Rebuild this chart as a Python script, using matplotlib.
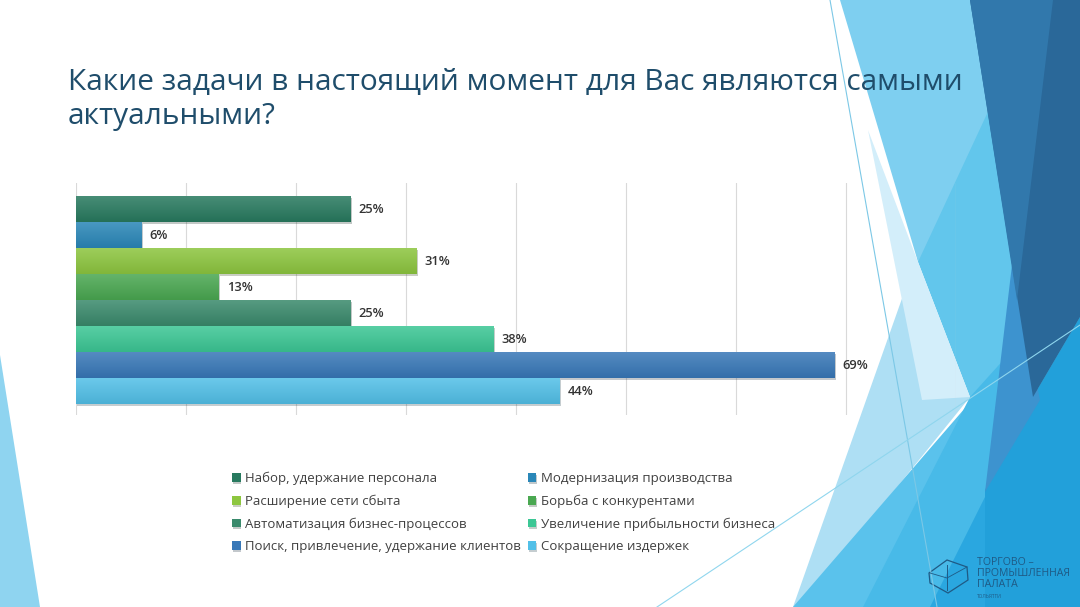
import matplotlib.pyplot as plt
import numpy as np
from matplotlib.patches import Polygon
from matplotlib import patheffects as pe
from matplotlib.colors import to_rgb

plt.rcParams['font.family'] = ['Open Sans', 'DejaVu Sans']

# data
tasks = ["Набор, удержание персонала", "Модернизация производства",
         "Расширение сети сбыта", "Борьба с конкурентами",
         "Автоматизация бизнес-процессов", "Увеличение прибыльности бизнеса",
         "Поиск, привлечение, удержание клиентов", "Сокращение издержек"]
shares = [25, 6, 31, 13, 25, 38, 69, 44]
colors = ['#287A5F', '#2A87B8', '#8DC63F', '#4AA851',
          '#3A8A6C', '#3CC795', '#3878B8', '#52C0E8']

W, H = 1080, 607
fig = plt.figure(figsize=(W / 100, H / 100), dpi=100)
fig.patch.set_facecolor('white')

# background decoration in pixel coords
bg = fig.add_axes([0, 0, 1, 1], zorder=0)
bg.set_xlim(0, W)
bg.set_ylim(H, 0)
bg.axis('off')

shapes = [
    ([(0, 355), (40, 607), (0, 607)], '#8FD4F0'),
    ([(900, 0), (1080, 0), (1080, 400), (970, 397), (918, 262)], '#62C6EC'),
    ([(840, 0), (1040, 0), (918, 262)], '#7ECFF0'),
    ([(905, 290), (970, 397), (800, 607), (793, 607)], '#AEDFF4'),
    ([(868, 130), (918, 262), (970, 397), (922, 400)], '#D3EEFA'),
    ([(793, 607), (1080, 275), (1080, 607)], '#5AC2EC'),
    ([(863, 607), (970, 397), (1080, 275), (1080, 607)], '#48BAE8'),
    ([(930, 607), (997, 473), (1080, 330), (1080, 607)], '#2AA7E0'),
    ([(985, 607), (985, 490), (1033, 397), (1080, 317), (1080, 607)], '#22A0DA'),
    ([(1012, 265), (1040, 400), (985, 492)], '#3D93CF'),
    ([(970, 0), (1080, 0), (1080, 317), (1033, 397)], '#2A6899'),
    ([(970, 0), (1053, 0), (1017, 300)], '#3178AC'),
]
for pts, c in shapes:
    bg.add_patch(Polygon(pts, closed=True, facecolor=c, edgecolor='none'))

bg.plot([830, 937], [0, 607], color='#7CC8E6', lw=0.8)
bg.plot([657, 1080], [607, 325], color='#8FD6EE', lw=0.8)

# logo
hexa = [(929, 573), (947, 560), (967, 567), (968, 580), (948, 593), (930, 583)]
bg.add_patch(Polygon(hexa, closed=True, facecolor='none', edgecolor='#1F5A85', lw=0.9))
bg.plot([930, 947, 967], [573, 578, 567], color='#1F5A85', lw=0.6)
bg.plot([947, 947], [565, 590], color='#1F5A85', lw=0.7)
bg.text(977, 557, "ТОРГОВО –\nПРОМЫШЛЕННАЯ\nПАЛАТА", fontsize=7.6, color='#1F5A85',
        va='top', ha='left', linespacing=0.98)
bg.text(977, 597, "ТОЛЬЯТТИ", fontsize=3.5, color='#1F5A85', va='center', ha='left')

# title
fig.text(68 / W, 1 - 90 / H, "Какие задачи в настоящий момент для Вас являются самыми",
         fontsize=21.5, color='#1F4D6B', va='baseline', ha='left')
fig.text(68 / W, 1 - 124 / H, "актуальными?",
         fontsize=21.5, color='#1F4D6B', va='baseline', ha='left')

# chart
ax = fig.add_axes([76 / W, 1 - 415 / H, 880 / W, 232 / H], zorder=2)
ax.patch.set_alpha(0)
y = np.arange(len(shares))
bars = ax.barh(y, shares, height=1.0, color=colors, zorder=3)
ax.set_xticks(np.arange(0, 81, 10))
ax.grid(axis='x', color='#D9D9D9', lw=0.8, zorder=0)
ax.tick_params(left=False, bottom=False, labelleft=False, labelbottom=False)
for s in ax.spines.values():
    s.set_visible(False)

for b, c in zip(bars, colors):
    b.set_path_effects([pe.SimplePatchShadow(offset=(0.6, -1.5), alpha=0.25), pe.Normal()])
    base = np.array(to_rgb(c))
    top = base + (1 - base) * 0.15
    bot = base * 0.92
    grad = np.linspace(0, 1, 32)[:, None, None]
    img = top * (1 - grad) + bot * grad
    x0, y0 = b.get_x(), b.get_y()
    im = ax.imshow(img, extent=(x0, x0 + b.get_width(), y0 + b.get_height(), y0),
                   aspect='auto', zorder=4, interpolation='bilinear')
    im.set_clip_path(b)

ax.set_xlim(0, 80)
ax.set_ylim(7.92, -1.0)

for yi, v in zip(y, shares):
    ax.text(v + 0.7, yi, f"{v}%", va='center', ha='left', fontsize=9.3,
            color='#333333', fontweight='semibold', zorder=5)

# legend (row-major order like the original)
handles = list(bars)
order = list(range(0, 8, 2)) + list(range(1, 8, 2))
leg = fig.legend([handles[i] for i in order], [tasks[i] for i in order],
                 ncol=2, loc='upper left', bbox_to_anchor=(232 / W, 1 - 472 / H),
                 frameon=False, fontsize=9.5, handlelength=0.65, handleheight=0.65,
                 handletextpad=0.35, columnspacing=0.5, labelspacing=0.7,
                 borderaxespad=0, borderpad=0)
for t in leg.get_texts():
    t.set_color('#404040')

fig.savefig('out.png', dpi=100)
